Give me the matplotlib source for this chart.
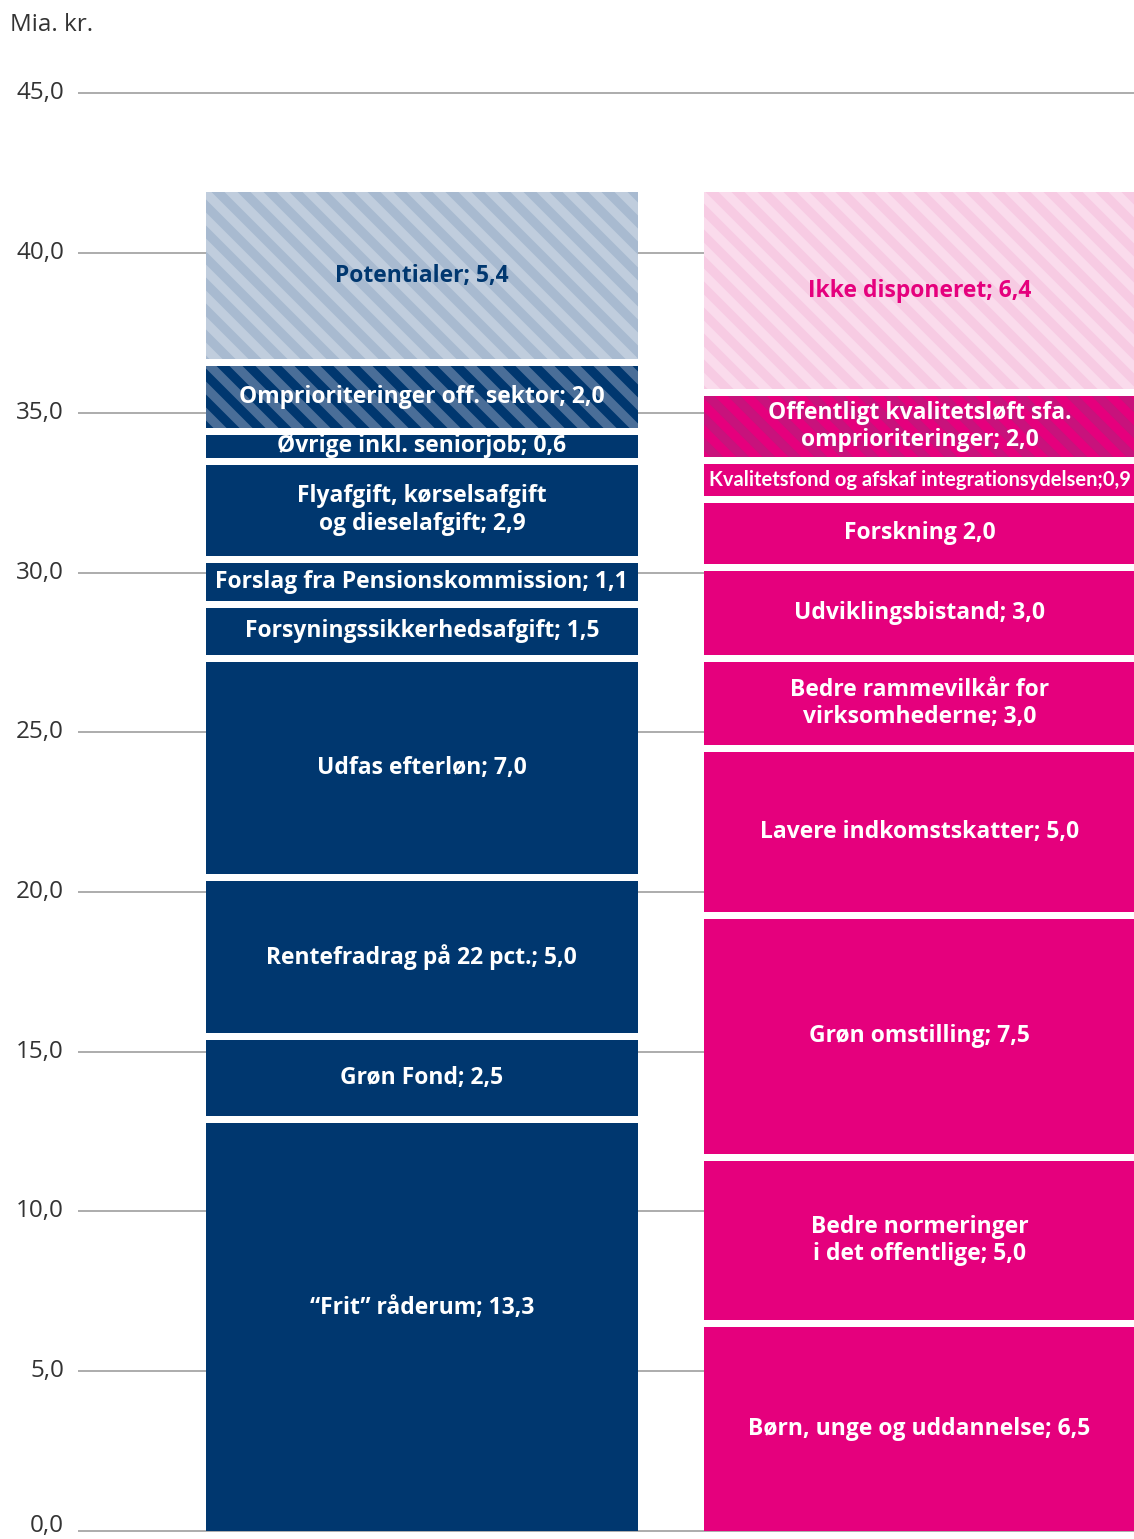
import matplotlib
matplotlib.use("Agg")
import matplotlib.pyplot as plt
import numpy as np

# segment heights as drawn (Mia. kr.), bottom to top
left_labels = ["“Frit” råderum; 13,3", "Grøn Fond; 2,5", "Rentefradrag på 22 pct.; 5,0",
               "Udfas efterløn; 7,0", "Forsyningssikkerhedsafgift; 1,5",
               "Forslag fra Pensionskommission; 1,1", "Flyafgift, kørselsafgift\nog dieselafgift; 2,9",
               "Øvrige inkl. seniorjob; 0,6", "Omprioriteringer off. sektor; 2,0", "Potentialer; 5,4"]
left_vals = [12.98, 2.60, 4.98, 6.86, 1.70, 1.41, 3.06, 0.94, 2.15, 5.44]

right_labels = ["Børn, unge og uddannelse; 6,5", "Bedre normeringer\ni det offentlige; 5,0",
                "Grøn omstilling; 7,5", "Lavere indkomstskatter; 5,0",
                "Bedre rammevilkår for\nvirksomhederne; 3,0", "Udviklingsbistand; 3,0",
                "Forskning 2,0", "Kvalitetsfond og afskaf integrationsydelsen;0,9",
                "Offentligt kvalitetsløft sfa.\nomprioriteringer; 2,0", "Ikke disponeret; 6,4"]
right_vals = [6.60, 5.20, 7.57, 5.23, 2.82, 2.86, 2.13, 1.22, 2.11, 6.38]

yticks = np.arange(0, 50, 5)

BLUE = "#00376f"
PINK = "#e5007d"
GAP = 0.22

# hatch cell is one inch in pixels, so this dpi sets the stripe spacing
DPI = 78


def pt(x):
    # sizes tuned as if at 100 dpi
    return x * 100 / DPI


plt.rcParams["font.family"] = ["Open Sans", "DejaVu Sans"]
plt.rcParams["hatch.linewidth"] = 8.5

fig = plt.figure(figsize=(1134 / DPI, 1539 / DPI), dpi=DPI)
ax = fig.add_axes([78 / 1134, (1539 - 1530.7 - 0.3 * 31.94) / 1539, 1 - 78 / 1134, 46.3 * 31.94 / 1539])


def stack(x, vals, labels, face, styles):
    bottom = 0.0
    for i, (v, lab) in enumerate(zip(vals, labels)):
        st = styles.get(i, {})
        h = v - GAP
        kw = dict(color=st.get("fc", face), linewidth=0, width=0.868, zorder=2)
        if "hatch" in st:
            kw.update(hatch="\\", edgecolor=st["hatch"])
        ax.bar(x, h, bottom=bottom, **kw)
        ax.text(x, bottom + h / 2 + st.get("dy", 0), lab, ha="center", va="center",
                fontsize=pt(st.get("fs", 16.5)), fontweight="bold", color=st.get("tc", "white"),
                family=st.get("family", ["Open Sans", "DejaVu Sans"]), zorder=3)
        bottom += v


left_styles = {
    0: {"dy": 0.6},
    8: {"hatch": "#4a6e98"},
    9: {"fc": "#c0cddd", "hatch": "#a8bad0", "tc": BLUE},
}
right_styles = {
    7: {"fs": 14.5, "family": ["Lato", "DejaVu Sans"]},
    8: {"hatch": "#c8127c"},
    9: {"fc": "#fadbec", "hatch": "#f7cbe3", "tc": PINK},
}

stack(0, left_vals, left_labels, BLUE, left_styles)
stack(1, right_vals, right_labels, PINK, right_styles)

ax.set_xlim(-0.691, 1.431)
ax.set_ylim(-0.3, 46.0)
ax.set_yticks(yticks)
ax.set_yticklabels([])
ax.tick_params(axis="y", length=0)
ax.set_xticks([])
ax.grid(axis="y", color="#a6a6a6", linewidth=pt(1.3), zorder=0)
ax.set_axisbelow(True)
for s in ax.spines.values():
    s.set_visible(False)

# y labels drawn by hand so the bottom one can sit a bit higher
for t in yticks:
    ax.text(-14 / 1056, t + (0.15 if t == 0 else 0), f"{t:.1f}".replace(".", ","),
            transform=ax.get_yaxis_transform(), ha="right", va="center",
            fontsize=pt(17.5), color="#333333")

fig.text(10 / 1134, 1 - 25 / 1539, "Mia. kr.", fontsize=pt(17.5), color="#333333", va="center", ha="left")

fig.savefig("out.png", dpi=DPI)
plt.close(fig)
